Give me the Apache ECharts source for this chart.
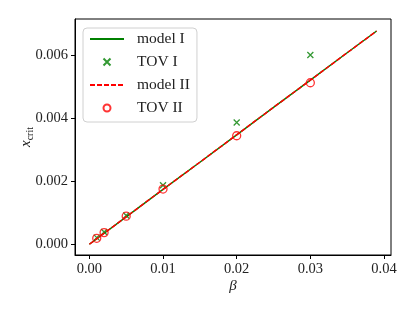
<!DOCTYPE html>
<html>
<head>
<meta charset="utf-8">
<script src="https://cdn.jsdelivr.net/npm/echarts@6/dist/echarts.min.js"></script>
<style>
html,body{margin:0;padding:0;background:#fff;}
#c{width:415px;height:311px;}
</style>
</head>
<body>
<div id="c"></div>
<script>
// Data
const betaLine = [0, 0.005, 0.01, 0.015, 0.02, 0.025, 0.03, 0.035, 0.039];
const modelI   = [0, 0.00087, 0.00174, 0.0026, 0.00347, 0.00434, 0.0052, 0.00607, 0.00676];
const modelII  = [0, 0.00087, 0.00174, 0.0026, 0.00347, 0.00434, 0.0052, 0.00607, 0.00676];
const betaTOV  = [0.001, 0.002, 0.005, 0.01, 0.02, 0.03];
const tovI     = [0.00021, 0.00039, 0.00091, 0.00187, 0.00386, 0.0060];
const tovII    = [0.00019, 0.00037, 0.00089, 0.00175, 0.00344, 0.00512];
const xTicks   = [0, 0.01, 0.02, 0.03, 0.04];
const yTicks   = [0, 0.002, 0.004, 0.006];
const legendNames = ['model I', 'TOV I', 'model II', 'TOV II'];

const FONT = 'Liberation Serif';
const pair = (xs, ys) => xs.map((x, i) => [x, ys[i]]);
const crossPath = 'path://M0,0L10,10M10,0L0,10';

const chart = echarts.init(document.getElementById('c'), null, {renderer: 'canvas'});
chart.setOption({
  animation: false,
  backgroundColor: '#fff',
  grid: {left: 75, right: 24, top: 19, bottom: 56, show: true, borderColor: '#000', borderWidth: 1, backgroundColor: 'transparent'},
  legend: {
    data: [
      {name: legendNames[0], itemStyle: {opacity: 0}},
      {name: legendNames[1]},
      {name: legendNames[2], itemStyle: {opacity: 0}},
      {name: legendNames[3]}
    ],
    orient: 'vertical',
    left: 83, top: 28,
    itemWidth: 34, itemHeight: 7, itemGap: 7,
    padding: [3, 7, 6, 6],
    backgroundColor: 'rgba(255,255,255,0.8)',
    borderColor: '#d0d0d0', borderWidth: 1, borderRadius: 4,
    textStyle: {fontFamily: FONT, fontSize: 15.5, lineHeight: 16, color: '#222', padding: [0, 0, 0, 8]}
  },
  xAxis: {
    type: 'value',
    min: -0.00195, max: 0.04095,
    name: 'β', nameLocation: 'middle', nameGap: 24, nameMoveOverlap: false,
    nameTextStyle: {fontFamily: FONT, fontSize: 15, fontStyle: 'italic', color: '#222'},
    axisLine: {show: true, onZero: false, lineStyle: {color: '#000', width: 1}},
    axisTick: {show: true, inside: false, length: 4, customValues: xTicks, lineStyle: {color: '#000'}},
    axisLabel: {customValues: xTicks, margin: 7, fontFamily: FONT, fontSize: 14.5, color: '#222', formatter: v => v.toFixed(2)},
    splitLine: {show: false}
  },
  yAxis: {
    type: 'value',
    min: -0.00034, max: 0.00714,
    name: '{i|x}{s|crit}', nameLocation: 'middle', nameGap: 40, nameRotate: 90, nameMoveOverlap: false,
    nameTextStyle: {
      fontFamily: FONT, color: '#222',
      rich: {
        i: {fontFamily: FONT, fontSize: 15, fontStyle: 'italic', color: '#222', lineHeight: 18, verticalAlign: 'middle'},
        s: {fontFamily: FONT, fontSize: 10, color: '#222', lineHeight: 18, verticalAlign: 'bottom', padding: [6, 0, 0, 0]}
      }
    },
    axisLine: {show: true, onZero: false, lineStyle: {color: '#000', width: 1}},
    axisTick: {show: true, inside: false, length: 4, customValues: yTicks, lineStyle: {color: '#000'}},
    axisLabel: {customValues: yTicks, margin: 7, fontFamily: FONT, fontSize: 14.5, color: '#222', formatter: v => v.toFixed(3)},
    splitLine: {show: false}
  },
  series: [
    {
      name: 'model I', type: 'line', data: pair(betaLine, modelI),
      showSymbol: false, symbol: 'none',
      lineStyle: {color: '#008000', width: 1.5}, itemStyle: {color: '#008000'}, z: 2
    },
    {
      name: 'TOV I', type: 'scatter', data: pair(betaTOV, tovI),
      symbol: crossPath, symbolSize: 6,
      itemStyle: {color: 'transparent', borderColor: '#008000', borderWidth: 1.3}, z: 3
    },
    {
      name: 'model II', type: 'line', data: pair(betaLine, modelII),
      showSymbol: false, symbol: 'none',
      lineStyle: {color: '#ff0000', width: 1.5, type: [5, 2]}, itemStyle: {color: '#ff0000'}, z: 4
    },
    {
      name: 'TOV II', type: 'scatter', data: pair(betaTOV, tovII),
      symbol: 'circle', symbolSize: 8,
      itemStyle: {color: 'transparent', borderColor: '#ff0000', borderWidth: 1.3}, z: 5
    }
  ]
});
</script>
</body>
</html>
